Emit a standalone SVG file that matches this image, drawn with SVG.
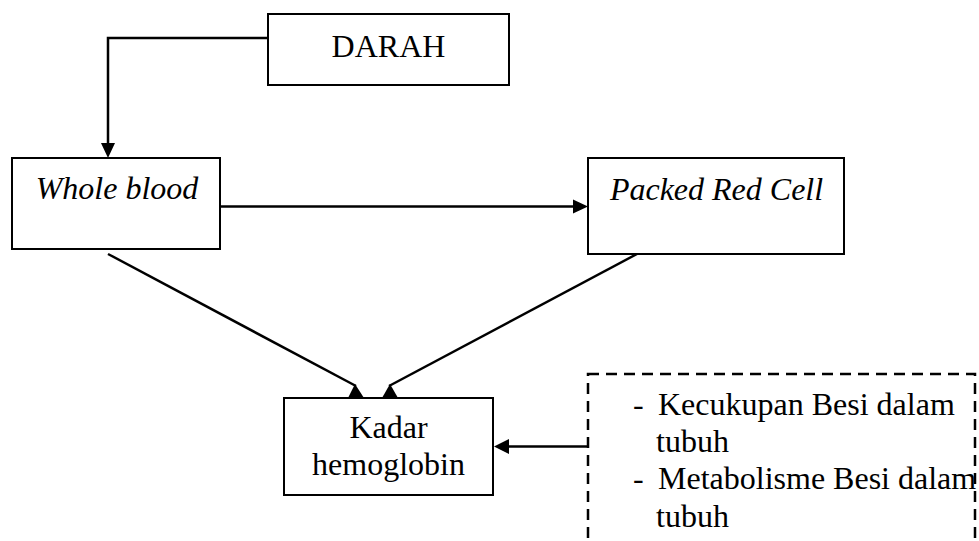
<svg xmlns="http://www.w3.org/2000/svg" width="979" height="541" viewBox="0 0 979 541">
<style>
.box{fill:#fff;stroke:#000;stroke-width:2}
.dash{fill:none;stroke:#000;stroke-width:2.5;stroke-dasharray:11 7}
.t{font-family:"Liberation Serif","Times New Roman",serif;font-size:32px;fill:#000}
.i{font-style:italic}
.c{text-anchor:middle}
.ln{fill:none;stroke:#000;stroke-width:2.5}
.ah{fill:#000;stroke:none}
</style>
<rect width="979" height="541" fill="#fff"/>
<g id="connectors">
<polyline class="ln" points="268,38 108,38 108,145"/>
<polygon class="ah" points="101,143 115,143 108,158"/>
<line class="ln" x1="220" y1="206.5" x2="575" y2="206.5"/>
<polygon class="ah" points="573,199.5 573,213.5 588,206.5"/>
<line class="ln" x1="108" y1="254" x2="356" y2="386"/>
<polygon class="ah" points="348,398 364,398 355,384"/>
<line class="ln" x1="637" y1="254" x2="389" y2="386"/>
<polygon class="ah" points="382,398 398,398 390,384"/>
<line class="ln" x1="588" y1="446.5" x2="506" y2="446.5"/>
<polygon class="ah" points="509,439 509,454 494,446.5"/>
</g>
<g id="darah">
<rect class="box" x="268" y="14" width="241" height="71"/>
<text class="t c" x="388.5" y="57">DARAH</text>
</g>
<g id="whole-blood">
<rect class="box" x="12" y="158" width="208" height="91"/>
<text class="t i c" x="117" y="199">Whole blood</text>
</g>
<g id="packed-red-cell">
<rect class="box" x="588" y="158" width="256" height="96"/>
<text class="t i c" x="716.5" y="200">Packed Red Cell</text>
</g>
<g id="kadar-hemoglobin">
<rect class="box" x="284" y="398" width="209" height="97"/>
<text class="t c" x="388.5" y="438">Kadar</text>
<text class="t c" x="388.5" y="475">hemoglobin</text>
</g>
<g id="faktor">
<rect class="dash" x="588" y="374" width="387" height="190"/>
<text class="t" x="633" y="415">-</text>
<text class="t" x="658" y="415">Kecukupan Besi dalam</text>
<text class="t" x="656" y="452">tubuh</text>
<text class="t" x="633" y="489">-</text>
<text class="t" x="658" y="489">Metabolisme Besi dalam</text>
<text class="t" x="656" y="527">tubuh</text>
</g>
</svg>
